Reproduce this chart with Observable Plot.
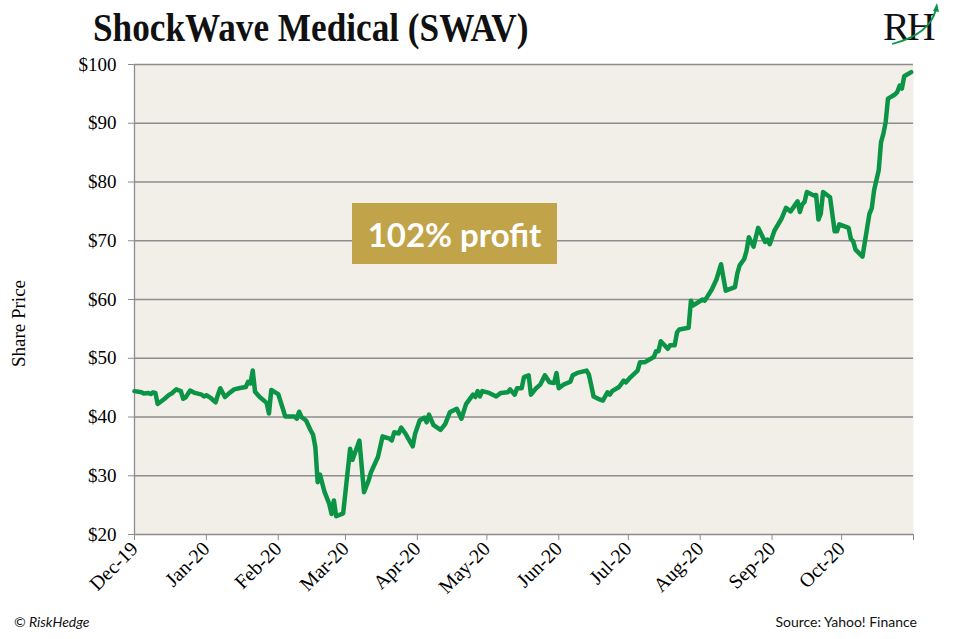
<!DOCTYPE html>
<html>
<head>
<meta charset="utf-8">
<script src="https://cdn.jsdelivr.net/npm/d3@7"></script>
<script src="https://cdn.jsdelivr.net/npm/@observablehq/plot@0.6"></script>
<style>
  html, body { margin: 0; padding: 0; background: #ffffff; }
  #wrap { position: relative; width: 977px; height: 639px; overflow: hidden; background: #fff; }
  #chart { position: absolute; left: 0; top: 0; }
  #title { position: absolute; left: 93px; top: 4px; font-family: "Liberation Serif", serif; font-weight: bold; font-size: 40px; color: #111; white-space: nowrap; transform: scaleX(0.88); transform-origin: left top; }
  #badge { position: absolute; left: 352px; top: 203px; width: 205px; height: 61px; background: #C1A34A; color: #fff; font-family: Lato, "Open Sans", sans-serif; font-weight: bold; font-size: 33px; display: flex; align-items: center; justify-content: center; }
  .foot { position: absolute; top: 613px; font-family: Lato, "Open Sans", sans-serif; font-size: 14px; color: #111; white-space: nowrap; }
  #copy { left: 14px; font-style: italic; }
  #src { right: 60px; }
  #logoText { position: absolute; left: 883px; top: 3px; font-family: "Liberation Serif", serif; font-size: 40px; color: #111; letter-spacing: -3px; line-height: 48px; white-space: nowrap; }
  #logo { position: absolute; left: 876px; top: 0px; }
</style>
</head>
<body>
<div id="wrap">
  <div id="chart"></div>
  <div id="title">ShockWave Medical (SWAV)</div>
  <div id="badge">102% profit</div>
  <div class="foot" id="copy">© RiskHedge</div>
  <div class="foot" id="src">Source: Yahoo! Finance</div>
  <div id="logoText">RH</div>
  <svg id="logo" width="72" height="50">
    <path d="M16 44 C 40 38, 56 26, 60 9" fill="none" stroke="#0b9446" stroke-width="1.8"/>
    <path d="M57 11 L61 3 L63 12 Z" fill="#0b9446"/>
  </svg>
</div>
<script>
const dates = [
"2019-12-01","2019-12-04","2019-12-05","2019-12-07","2019-12-08","2019-12-09","2019-12-10","2019-12-11","2019-12-14","2019-12-16",
"2019-12-17","2019-12-19","2019-12-21","2019-12-22","2019-12-23","2019-12-25","2019-12-27","2019-12-30","2019-12-31","2020-01-01",
"2020-01-03","2020-01-05","2020-01-06","2020-01-07","2020-01-09","2020-01-11","2020-01-13","2020-01-15","2020-01-18","2020-01-19",
"2020-01-20","2020-01-21","2020-01-22","2020-01-24","2020-01-27","2020-01-28","2020-01-29","2020-02-01","2020-02-03","2020-02-04",
"2020-02-08","2020-02-09","2020-02-10","2020-02-11","2020-02-13","2020-02-15","2020-02-16","2020-02-17","2020-02-18","2020-02-19",
"2020-02-21","2020-02-23","2020-02-24","2020-02-25","2020-02-26","2020-02-29","2020-03-03","2020-03-04","2020-03-07","2020-03-09",
"2020-03-11","2020-03-12","2020-03-15","2020-03-17","2020-03-20","2020-03-21","2020-03-22","2020-03-24","2020-03-25","2020-03-27",
"2020-03-30","2020-03-31","2020-04-02","2020-04-04","2020-04-05","2020-04-06","2020-04-08","2020-04-11","2020-04-13","2020-04-15",
"2020-04-18","2020-04-20","2020-04-22","2020-04-25","2020-04-26","2020-04-27","2020-04-28","2020-04-29","2020-05-02","2020-05-05",
"2020-05-07","2020-05-10","2020-05-11","2020-05-13","2020-05-14","2020-05-16","2020-05-17","2020-05-19","2020-05-20","2020-05-22",
"2020-05-24","2020-05-26","2020-05-28","2020-05-30","2020-05-31","2020-06-01","2020-06-03","2020-06-06","2020-06-07","2020-06-09",
"2020-06-13","2020-06-14","2020-06-15","2020-06-16","2020-06-18","2020-06-20","2020-06-22","2020-06-23","2020-06-24","2020-06-27",
"2020-06-29","2020-06-30","2020-07-02","2020-07-05","2020-07-06","2020-07-08","2020-07-12","2020-07-13","2020-07-14","2020-07-15",
"2020-07-18","2020-07-19","2020-07-21","2020-07-22","2020-07-23","2020-07-27","2020-07-28","2020-07-29","2020-08-02","2020-08-03",
"2020-08-06","2020-08-08","2020-08-10","2020-08-12","2020-08-16","2020-08-17","2020-08-18","2020-08-20","2020-08-21","2020-08-22",
"2020-08-24","2020-08-26","2020-08-29","2020-08-30","2020-08-31","2020-09-02","2020-09-05","2020-09-07","2020-09-09","2020-09-12",
"2020-09-13","2020-09-14","2020-09-15","2020-09-16","2020-09-19","2020-09-20","2020-09-21","2020-09-22","2020-09-23","2020-09-26",
"2020-09-28","2020-09-29","2020-09-30","2020-10-04","2020-10-05","2020-10-06","2020-10-07","2020-10-10","2020-10-13","2020-10-14",
"2020-10-15","2020-10-17","2020-10-18","2020-10-19","2020-10-20","2020-10-21","2020-10-24","2020-10-25","2020-10-26","2020-10-27",
"2020-10-28","2020-10-31"
];
const prices = [
44.4,44.2,44.0,44.1,43.9,44.2,44.1,42.2,43.1,43.8,
44.0,44.7,44.4,43.1,43.3,44.5,44.1,43.8,43.5,43.7,
43.2,42.5,43.8,44.9,43.4,44.1,44.7,44.9,45.1,46.0,
45.7,47.9,44.3,43.4,42.4,40.6,44.6,43.9,41.4,40.1,
40.1,39.7,40.9,40.0,39.4,37.7,37.0,34.9,28.9,30.2,
27.2,25.2,23.5,25.8,23.1,23.6,34.6,32.7,36.0,27.2,
29.2,30.6,33.2,36.7,36.3,36.0,37.4,37.2,38.2,37.1,
35.0,37.1,39.4,39.9,39.1,40.4,38.6,37.8,38.8,40.8,
41.4,39.7,42.2,43.8,43.4,44.4,43.5,44.4,44.1,43.5,
44.1,44.2,44.7,43.8,44.9,44.9,46.8,47.1,43.8,44.8,
45.5,47.1,45.9,45.8,47.5,44.9,45.5,46.0,47.1,47.5,
47.9,47.2,45.4,43.5,43.1,42.8,44.2,43.8,44.4,45.1,
46.2,45.9,46.8,47.9,49.3,49.3,50.2,51.2,51.2,52.9,
51.6,52.2,52.2,54.4,54.9,55.2,59.8,59.0,60.0,59.8,
61.7,63.4,66.0,61.5,62.1,64.4,65.8,66.9,68.3,70.6,
69.0,72.2,69.8,70.2,69.4,71.7,73.7,75.6,75.0,76.7,
74.9,76.2,76.6,78.3,77.7,77.8,73.6,74.6,78.3,77.4,
71.6,71.6,72.8,72.2,70.3,69.9,68.5,67.3,74.6,75.5,
78.6,82.0,86.8,88.2,90.2,94.2,94.9,95.3,96.4,95.9,
98.0,98.7
];
const yTicks = [20, 30, 40, 50, 60, 70, 80, 90, 100];
const monthTicks = ["2019-12-01","2020-01-01","2020-02-01","2020-03-01","2020-04-01","2020-05-01","2020-06-01","2020-07-01","2020-08-01","2020-09-01","2020-10-01"];
const axisStart = "2019-12-01";
const axisEnd = "2020-11-01";

const data = dates.map((d, i) => ({date: new Date(d), price: prices[i]}));
const gridColor = "#8c8c8c";

const chart = Plot.plot({
  width: 977,
  height: 639,
  marginLeft: 134,
  marginRight: 64,
  marginTop: 64,
  marginBottom: 105,
  style: {fontFamily: "Liberation Serif, serif", fontSize: "19px", color: "#000", background: "transparent"},
  x: {type: "utc", domain: [new Date(axisStart), new Date(axisEnd)]},
  y: {domain: [20, 100]},
  marks: [
    Plot.frame({fill: "#F2EFE9", stroke: "none"}),
    Plot.ruleY(yTicks, {stroke: gridColor, strokeWidth: 1.3}),
    Plot.ruleX([new Date(axisStart)], {stroke: gridColor, strokeWidth: 1.3}),
    Plot.axisY({ticks: yTicks, tickFormat: d => "$" + d, tickSize: 6, tickPadding: 12, stroke: gridColor, fill: "#000", fontSize: 19, label: null}),
    Plot.axisX({ticks: monthTicks.map(d => new Date(d)), tickFormat: d3.utcFormat("%b-%y"), tickRotate: -45, tickSize: 6, tickPadding: 5, stroke: gridColor, fill: "#000", fontSize: 20, label: null}),
    Plot.axisX({ticks: [new Date(axisEnd)], tickFormat: () => "", tickSize: 6, stroke: gridColor, label: null}),
    Plot.line(data, {x: "date", y: "price", stroke: "#0b9446", strokeWidth: 4.5, strokeLinejoin: "round", strokeLinecap: "round"}),
    Plot.text(["Share Price"], {frameAnchor: "left", textAnchor: "middle", dx: -116, dy: 24, rotate: -90, fontSize: 19, fill: "#000"})
  ]
});
document.getElementById("chart").appendChild(chart);
</script>
</body>
</html>
